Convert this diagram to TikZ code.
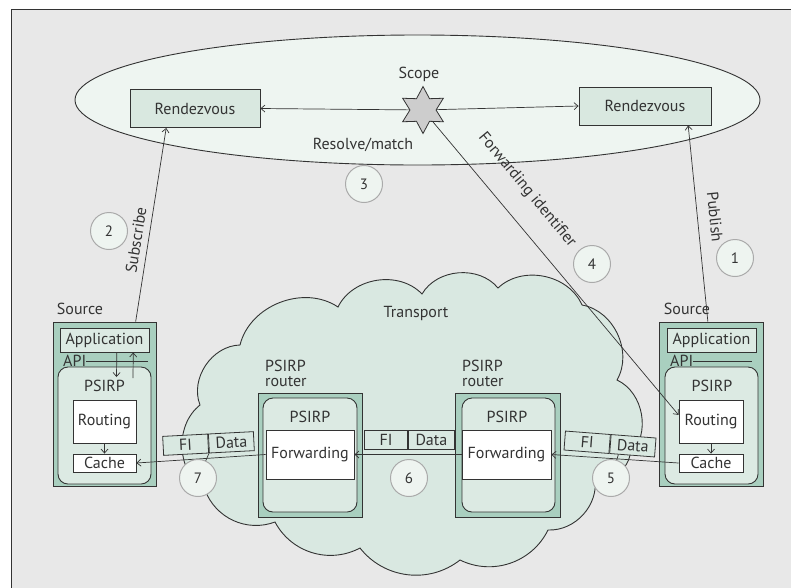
\documentclass[tikz,border=0pt]{standalone}
\usepackage{fontspec}
\setmainfont{PT Sans}
\usetikzlibrary{shapes.geometric,arrows.meta,calc}
\definecolor{ink}{HTML}{333333}
\definecolor{bg}{HTML}{E8E8E8}
\definecolor{ellfill}{HTML}{EEF5F1}
\definecolor{rzfill}{HTML}{D9E8E0}
\definecolor{cloudfill}{HTML}{D9E8E1}
\definecolor{outerfill}{HTML}{A9CFBF}
\definecolor{innerfill}{HTML}{DCEAE3}
\definecolor{pktfill}{HTML}{D9E8E1}
\definecolor{numfill}{HTML}{EEF4F0}
\definecolor{numdraw}{HTML}{AAAAAA}
\definecolor{starfill}{HTML}{CDCDCD}
\tikzset{
  txt/.style={font=\fontsize{16}{15}\selectfont, text=ink, inner sep=0pt},
  boxbase/.style={draw=ink, line width=0.9pt, inner sep=0pt, txt},
  rzbox/.style={boxbase, fill=rzfill, minimum height=38pt},
  outerbox/.style={boxbase, fill=outerfill},
  innerbox/.style={boxbase, fill=innerfill, rounded corners=10pt},
  whitebox/.style={boxbase, fill=white},
  pkt/.style={boxbase, fill=pktfill, line width=0.8pt, minimum height=19pt, transform shape},
  num/.style={circle, draw=numdraw, fill=numfill, line width=1pt, minimum size=37pt, inner sep=0pt, font=\fontsize{15}{15}\selectfont, text=ink},
  arr/.style={draw=ink, line width=0.7pt, -{Straight Barb[length=4pt,width=7pt]}},
  plain/.style={draw=ink, line width=0.7pt},
}
\begin{document}
\begin{tikzpicture}[x=1pt,y=-1pt]
\useasboundingbox (0,0) rectangle (791,587);
\fill[white] (0,0) rectangle (791,587);
\clip (0,0) rectangle (791,587);
\draw[fill=bg, draw=ink, line width=1pt] (11,9) rectangle (800,600);

% scope ellipse
\draw[fill=ellfill, draw=ink, line width=0.9pt] (417.5,100) ellipse [x radius=342.5pt, y radius=65pt];
\node[rzbox, minimum width=130pt] (rzL) at (195,108.5) {Rendezvous};
\node[rzbox, minimum width=132pt] (rzR) at (645,106) {Rendezvous};
\node[star, star points=6, star point ratio=1.8, minimum size=47pt, draw=ink, fill=starfill, line width=0.8pt, inner sep=0pt] (star) at (423,110) {};
\node[txt] (scopelbl) at (419,74) {Scope};
\node[txt] (resolvelbl) at (363,145) {Resolve/match};
\draw[arr] (star) -- (rzL.east);
\draw[arr] (star) -- (rzR.west);

% transport cloud
\draw[fill=cloudfill, draw=ink, line width=0.9pt]
  (200,405) to[bend left=55] (240,345) to[bend left=55] (338,307)
  to[bend left=55] (422,294) to[bend left=55] (498,288)
  to[bend left=55] (582,305) to[bend left=55] (617,380)
  to[bend left=55] (630,455) to[bend left=45] (595,478)
  to[bend left=50] (548,530) to[bend left=45] (460,560)
  to[bend left=45] (360,548) to[bend left=45] (275,522)
  to[bend left=45] (205,490) to[bend left=55] (200,405) -- cycle;
\node[txt] (transportlbl) at (416,313) {Transport};

% routers
\node[outerbox, minimum width=104pt, minimum height=124pt] (rtL) at (310,455) {};
\node[innerbox, minimum width=94pt, minimum height=114pt] (rtLi) at (310,455) {};
\node[whitebox, minimum width=88pt, minimum height=49pt] (fwdL) at (310,454.5) {Forwarding};
\node[txt] (rtLp) at (310,417) {PSIRP};
\node[txt, align=left, anchor=north west] (rtLlbl) at (265,360) {PSIRP\\router};

\node[outerbox, minimum width=105pt, minimum height=124pt] (rtR) at (507.5,455) {};
\node[innerbox, minimum width=93pt, minimum height=114pt] (rtRi) at (508.5,455) {};
\node[whitebox, minimum width=89pt, minimum height=49pt] (fwdR) at (506.5,454.5) {Forwarding};
\node[txt] (rtRp) at (507,417) {PSIRP};
\node[txt, align=left, anchor=north west] (rtRlbl) at (462,360) {PSIRP\\router};

% left source
\node[outerbox, minimum width=103pt, minimum height=164pt] (srcL) at (104.5,404) {};
\node[boxbase, fill=innerfill, minimum width=89pt, minimum height=24pt] (appL) at (104.5,340) {Application};
\node[innerbox, minimum width=93pt, minimum height=117pt] (psL) at (104.5,425.5) {};
\node[txt] (psLlbl) at (104.5,386) {PSIRP};
\node[whitebox, minimum width=63pt, minimum height=43pt] (routL) at (104.5,421.5) {Routing};
\node[whitebox, minimum width=63pt, minimum height=18pt] (cacheL) at (104.5,463) {Cache};
\node[txt] (srcLlbl) at (80,309) {Source};
\node[txt, anchor=west] (apiL) at (63,361) {API};
\draw[plain] (apiL.east) -- (148,361);
\coordinate (apiLdn) at (116.5,377);
\coordinate (apiLup) at (133,378);
\draw[arr] ($(appL.south west)!0.637!(appL.south east)$) -- (apiLdn);
\draw[arr] (apiLup) -- ($(appL.south west)!0.82!(appL.south east)$);
\draw[arr] (routL) -- (cacheL);

% right source
\node[outerbox, minimum width=104pt, minimum height=164pt] (srcR) at (711,404) {};
\node[boxbase, fill=innerfill, minimum width=89pt, minimum height=24pt] (appR) at (711.5,340) {Application};
\node[innerbox, minimum width=93pt, minimum height=117pt] (psR) at (711.5,425.5) {};
\node[txt] (psRlbl) at (712,386) {PSIRP};
\node[whitebox, minimum width=64pt, minimum height=43pt] (routR) at (711,421.5) {Routing};
\node[whitebox, minimum width=64pt, minimum height=18pt] (cacheR) at (711,463) {Cache};
\node[txt] (srcRlbl) at (687,309) {Source};
\node[txt, anchor=west] (apiR) at (670,361) {API};
\draw[plain] (apiR.east) -- (752,361);
\draw[arr] (routR) -- (cacheR);

% packets
\begin{scope}[shift={(208.5,443.5)}, rotate=3]
  \node[pkt, minimum width=45pt, anchor=east] (fiL) at (0,0) {FI};
  \node[pkt, minimum width=45pt, anchor=west] (dataL) at (0,0) {Data};
\end{scope}
\begin{scope}[shift={(408,439.5)}]
  \node[pkt, minimum width=43pt, anchor=east] (fiM) at (0,0) {FI};
  \node[pkt, minimum width=46pt, anchor=west] (dataM) at (0,0) {Data};
\end{scope}
\begin{scope}[shift={(610,444)}, rotate=-4.4]
  \node[pkt, minimum width=45pt, anchor=east] (fiR) at (0,0) {FI};
  \node[pkt, minimum width=45pt, anchor=west] (dataR) at (0,0) {Data};
\end{scope}

% data path
\draw[arr] (fwdL.west) -- (cacheL.east);
\draw[arr] (fwdR.west) -- (fwdL.east);
\draw[arr] (cacheR.west) -- (fwdR.east);

% control arrows
\draw[arr] ($(srcL.north west)!0.8!(srcL.north east)$) -- ($(rzL.south west)!0.28!(rzL.south east)$);
\draw[arr] ($(srcR.north west)!0.47!(srcR.north east)$) -- ($(rzR.south west)!0.825!(rzR.south east)$);
\draw[arr] (star) -- ($(routR.north west)!0.35!(routR.south west)$);

\node[txt, rotate=80.9] (sublbl) at (136,240) {Subscribe};
\node[txt, rotate=-84.2] (publbl) at (715,217) {Publish};
\node[txt, rotate=-50.3] (fidlbl) at (527,190) {Forwarding identifier};

% step numbers
\node[num] (c1) at (735,258) {1};
\node[num] (c2) at (109,231) {2};
\node[num] (c3) at (364,184) {3};
\node[num] (c4) at (592,264) {4};
\node[num] (c5) at (611,478) {5};
\node[num] (c6) at (409,478) {6};
\node[num] (c7) at (198,478) {7};
\draw[plain] (dataL.south west) -- (c7);
\draw[plain] ($(dataR.south west)!0.2!(dataR.south east)$) -- (c5);
\end{tikzpicture}
\end{document}
